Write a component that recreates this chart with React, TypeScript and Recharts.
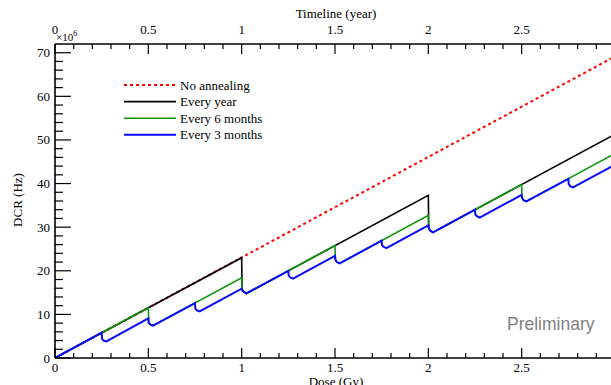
import React from 'react';
import { LineChart, Line, XAxis, YAxis } from 'recharts';

// dose (Gy) -> DCR (x10^6 Hz)
const noAnnealing: [number, number][] = [[0, 0], [1, 23.05], [2, 46.1], [3, 69.15]];

const everyYear: [number, number][] = [
  [0, 0], [1, 23.0], [1.002, 15.8], [1.01, 15.2], [1.025, 14.8],
  [2, 37.3], [2.002, 29.8], [2.01, 29.2], [2.025, 28.8],
  [3, 51.3],
];

const every6Months: [number, number][] = [
  [0, 0], [0.5, 11.5], [0.502, 8.2], [0.51, 7.7], [0.525, 7.4],
  [1, 18.4], [1.002, 15.8], [1.01, 15.2], [1.025, 14.8],
  [1.5, 25.8], [1.502, 22.6], [1.51, 22.0], [1.525, 21.7],
  [2, 32.7], [2.002, 29.8], [2.01, 29.2], [2.025, 28.8],
  [2.5, 39.8], [2.502, 36.8], [2.51, 36.2], [2.525, 35.9],
  [3, 46.9],
];

const every3Months: [number, number][] = [
  [0, 0], [0.25, 5.8], [0.252, 4.4], [0.26, 4.0], [0.275, 3.8],
  [0.5, 9.1], [0.502, 8.0], [0.51, 7.7], [0.525, 7.4],
  [0.75, 12.6], [0.752, 11.3], [0.76, 10.9], [0.775, 10.7],
  [1, 15.9], [1.002, 15.6], [1.01, 15.2], [1.025, 14.8],
  [1.25, 20.0], [1.252, 18.9], [1.26, 18.5], [1.275, 18.2],
  [1.5, 23.4], [1.502, 22.5], [1.51, 22.0], [1.525, 21.7],
  [1.75, 26.9], [1.752, 25.9], [1.76, 25.5], [1.775, 25.2],
  [2, 30.4], [2.002, 29.8], [2.01, 29.2], [2.025, 28.8],
  [2.25, 34.0], [2.252, 32.9], [2.26, 32.5], [2.275, 32.2],
  [2.5, 37.4], [2.502, 36.7], [2.51, 36.2], [2.525, 35.9],
  [2.75, 41.1], [2.752, 39.9], [2.76, 39.4], [2.775, 39.1],
  [3, 44.3],
];

const doseTicks = [
  0, 0.1, 0.2, 0.3, 0.4, 0.5, 0.6, 0.7, 0.8, 0.9, 1, 1.1, 1.2, 1.3, 1.4, 1.5,
  1.6, 1.7, 1.8, 1.9, 2, 2.1, 2.2, 2.3, 2.4, 2.5, 2.6, 2.7, 2.8, 2.9, 3,
];
const dcrTicks = [
  0, 2, 4, 6, 8, 10, 12, 14, 16, 18, 20, 22, 24, 26, 28, 30, 32, 34, 36,
  38, 40, 42, 44, 46, 48, 50, 52, 54, 56, 58, 60, 62, 64, 66, 68, 70, 72,
];

const series = [
  { name: 'No annealing', data: noAnnealing, color: '#ff0000', width: 2, dash: '3 3' },
  { name: 'Every year', data: everyYear, color: '#000000', width: 1.6, dash: undefined },
  { name: 'Every 6 months', data: every6Months, color: '#0c960c', width: 1.6, dash: undefined },
  { name: 'Every 3 months', data: every3Months, color: '#0a0aff', width: 2, dash: undefined },
];

const toRows = (pts: [number, number][]) => pts.map(([dose, dcr]) => ({ dose, dcr }));

const serif = 'Liberation Serif, Times New Roman, serif';
const isMajor = (v: number, step: number) => Math.abs(v / step - Math.round(v / step)) < 1e-6;
const fmt = (v: number) => String(Math.round(v * 10) / 10);

const BottomTick = (props: any) => {
  const { x, y, payload } = props;
  const major = isMajor(payload.value, 0.5);
  return (
    <g>
      <line x1={x} y1={y} x2={x} y2={y - (major ? 10 : 5)} stroke="#000" strokeWidth={1.2} />
      {major && payload.value < 2.9 && (
        <text x={x} y={y + 14} textAnchor="middle" fontSize={13} fontFamily={serif} fill="#000">
          {fmt(payload.value)}
        </text>
      )}
    </g>
  );
};

const TopTick = (props: any) => {
  const { x, y, payload } = props;
  const major = isMajor(payload.value, 0.5);
  return (
    <g>
      <line x1={x} y1={y} x2={x} y2={y + (major ? 10 : 5)} stroke="#000" strokeWidth={1.2} />
      {major && payload.value < 2.9 && (
        <text x={x} y={y - 10} textAnchor="middle" fontSize={13} fontFamily={serif} fill="#000">
          {fmt(payload.value)}
        </text>
      )}
    </g>
  );
};

const LeftTick = (props: any) => {
  const { x, y, payload } = props;
  const major = isMajor(payload.value, 10);
  if (payload.value > 71) return <g />;
  return (
    <g>
      <line x1={x} y1={y} x2={x + (major ? 16 : 8)} y2={y} stroke="#000" strokeWidth={1.2} />
      {major && (
        <text x={x - 5} y={y + 4.5} textAnchor="end" fontSize={13} fontFamily={serif} fill="#000">
          {fmt(payload.value)}
        </text>
      )}
    </g>
  );
};

const LegendBox = () => (
  <svg width={160} height={70} style={{ position: 'absolute', left: 124, top: 77 }}>
    {series.map((s, i) => (
      <g key={s.name}>
        <line x1={0} x2={52} y1={8 + i * 16.6} y2={8 + i * 16.6} stroke={s.color}
          strokeWidth={s.width} strokeDasharray={s.dash} />
        <text x={56} y={12.5 + i * 16.6} fontSize={13} fontFamily={serif} fill="#000">{s.name}</text>
      </g>
    ))}
  </svg>
);

const App = () => {
  return (
    <div style={{ position: 'absolute', left: 0, top: 0, width: 611, height: 385, overflow: 'hidden', background: '#fff' }}>
      <LineChart width={620} height={385} margin={{ top: 0, right: 5, bottom: 0, left: 0 }}>
        <XAxis xAxisId="bottom" dataKey="dose" type="number" domain={[0, 3]} ticks={doseTicks}
          interval={0} height={27} tickSize={0} tickMargin={0} tickLine={false}
          axisLine={{ stroke: '#000', strokeWidth: 1.6 }} tick={<BottomTick />} allowDataOverflow />
        <XAxis xAxisId="top" orientation="top" dataKey="dose" type="number" domain={[0, 3]} ticks={doseTicks}
          interval={0} height={44} tickSize={0} tickMargin={0} tickLine={false}
          axisLine={{ stroke: '#000', strokeWidth: 1.6 }} tick={<TopTick />} allowDataOverflow />
        <YAxis dataKey="dcr" type="number" domain={[0, 72]} ticks={dcrTicks} interval={0} width={55}
          tickSize={0} tickMargin={0} tickLine={false}
          axisLine={{ stroke: '#000', strokeWidth: 1.6 }} tick={<LeftTick />} allowDataOverflow />
        {series.map((s) => (
          <Line key={s.name} xAxisId="bottom" data={toRows(s.data)} dataKey="dcr" name={s.name}
            type="linear" stroke={s.color} strokeWidth={s.width} strokeDasharray={s.dash}
            dot={false} activeDot={false} isAnimationActive={false} />
        ))}
        <Line xAxisId="top" data={toRows(noAnnealing)} dataKey="dcr" stroke="none" dot={false}
          legendType="none" isAnimationActive={false} />
      </LineChart>
      <LegendBox />
      <div style={{ position: 'absolute', left: 0, top: 6, width: 672, textAlign: 'center', fontFamily: serif, fontSize: 13 }}>
        Timeline (year)
      </div>
      <div style={{ position: 'absolute', left: 0, top: 374, width: 672, textAlign: 'center', fontFamily: serif, fontSize: 13 }}>
        Dose (Gy)
      </div>
      <div style={{ position: 'absolute', left: 18, top: 200, fontFamily: serif, fontSize: 13, transform: 'translate(-50%, -50%) rotate(-90deg)', whiteSpace: 'nowrap' }}>
        DCR (Hz)
      </div>
      <div style={{ position: 'absolute', left: 56, top: 28, fontFamily: serif, fontSize: 11, lineHeight: '12px' }}>
        ×10<sup style={{ fontSize: 8 }}>6</sup>
      </div>
      <div style={{ position: 'absolute', left: 507, top: 314, fontFamily: 'Liberation Sans, Arial, sans-serif', fontSize: 17.5, color: '#7f7f7f' }}>
        Preliminary
      </div>
    </div>
  );
};

export default App;
